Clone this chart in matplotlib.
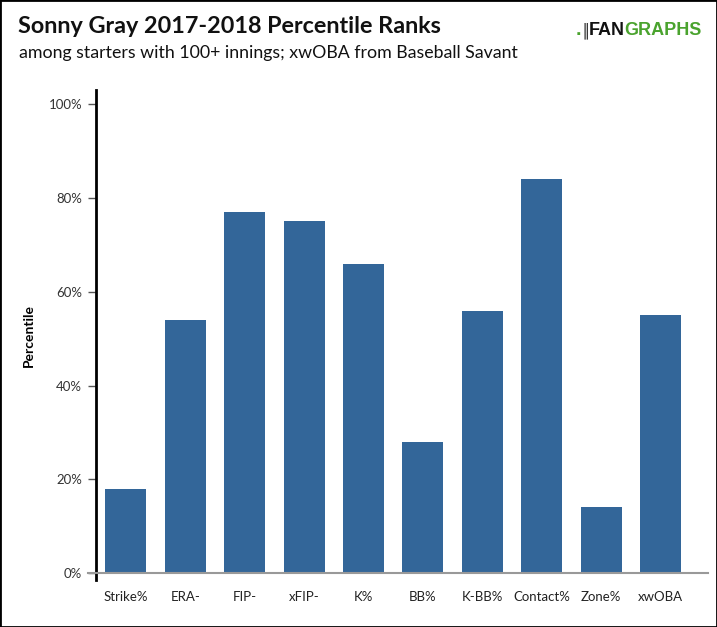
import matplotlib.pyplot as plt
from matplotlib.patches import Rectangle
from matplotlib.ticker import FuncFormatter

plt.rcParams['font.family'] = ['Lato', 'DejaVu Sans']

# Sonny Gray percentile ranks
stats = ["Strike%", "ERA-", "FIP-", "xFIP-", "K%", "BB%", "K-BB%", "Contact%", "Zone%", "xwOBA"]
percentiles = [18, 54, 77, 75, 66, 28, 56, 84, 14, 55]

bar_color = '#336699'

fig = plt.figure(figsize=(7.17, 6.27), dpi=100)
ax = fig.add_axes([0.134, 0.075, 0.853, 0.781])

x = range(len(stats))
ax.bar(x, percentiles, width=0.69, color=bar_color, zorder=2)

ax.set_xlim(-0.5, 9.79)
ax.set_ylim(-1.5, 103)
ax.set_yticks([0, 20, 40, 60, 80, 100])
ax.yaxis.set_major_formatter(FuncFormatter(lambda v, p: f"{int(v)}%"))
ax.set_xticks(list(x))
ax.set_xticklabels(stats)

for side in ['top', 'right', 'bottom']:
    ax.spines[side].set_visible(False)
ax.spines['left'].set_linewidth(2)
ax.spines['left'].set_color('black')

ax.tick_params(axis='x', length=0, labelsize=9.5, colors='#222222', pad=8)
ax.tick_params(axis='y', length=6, width=1, color='#555555', labelsize=9.5,
               labelcolor='#333333', pad=4)

# gray baseline at 0
ax.plot([-0.64, 9.79], [0, 0], color='#999999', lw=1.5, clip_on=False, zorder=3)

ax.set_ylabel("Percentile", fontsize=10, fontweight='bold', labelpad=10)

fig.text(0.025, 0.957, "Sonny Gray 2017-2018 Percentile Ranks", fontsize=16.8,
         fontweight='bold', ha='left', va='center', color='#111111')
fig.text(0.027, 0.916, "among starters with 100+ innings; xwOBA from Baseball Savant",
         fontsize=12.8, ha='left', va='center', color='#111111')

# logo
fig.text(0.803, 0.951, ".", fontsize=14, fontweight='bold', color='#4aa32e',
         ha='left', va='center', family='Liberation Sans')
fig.text(0.811, 0.951, "\u2551", fontsize=10, color='#111111',
         ha='left', va='center', family='DejaVu Sans')
fig.text(0.871, 0.951, "FAN", fontsize=13, fontweight='bold', color='#111111',
         ha='right', va='center', family='Liberation Sans')
fig.text(0.871, 0.951, "GRAPHS", fontsize=13, fontweight='bold', color='#4aa32e',
         ha='left', va='center', family='Liberation Sans')

fig.patches.append(Rectangle((0, 0), 1, 1, transform=fig.transFigure, fill=False,
                             edgecolor='black', lw=2, zorder=10))

fig.savefig("out.png", dpi=100)
